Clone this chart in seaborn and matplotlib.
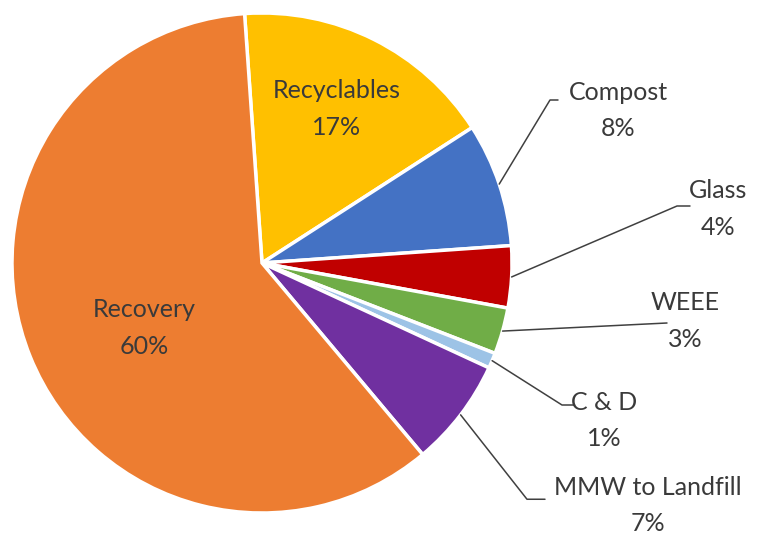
import matplotlib.pyplot as plt
import numpy as np
import seaborn as sns

# DATA
categories = ['Recyclables', 'Compost', 'Glass', 'WEEE', 'C & D', 'MMW to Landfill', 'Recovery']
shares = [17, 8, 4, 3, 1, 7, 60]
colors = ['#FFC000', '#4472C4', '#C00000', '#70AD47', '#9DC3E6', '#7030A0', '#ED7D31']

# LABEL LAYOUT (pie radius = 1, centre at 0,0)
label_pos = {
    'Recyclables': (0.30, 0.615),
    'Recovery': (-0.47, -0.26),
    'Compost': (1.424, 0.61),
    'Glass': (1.824, 0.215),
    'WEEE': (1.692, -0.232),
    'C & D': (1.37, -0.63),
    'MMW to Landfill': (1.544, -0.97),
}
# leader line: elbow point, end point
leaders = {
    'Compost': [(1.152, 0.652), (1.184, 0.652)],
    'Glass': [(1.66, 0.228), (1.712, 0.228)],
    'WEEE': [(1.62, -0.24), (1.62, -0.24)],
    'C & D': [(1.2, -0.568), (1.25, -0.568)],
    'MMW to Landfill': [(1.06, -0.945), (1.132, -0.945)],
}

sns.set_style('white')
plt.rcParams['font.family'] = ['Lato', 'DejaVu Sans']

fig = plt.figure(figsize=(7.68, 5.41), dpi=100)
ax = fig.add_axes([0, 0, 1, 1])

start = 94
wedges, _ = ax.pie(shares, colors=colors, startangle=start, counterclock=False,
                   radius=1, center=(0, 0),
                   wedgeprops=dict(edgecolor='white', linewidth=2.5))

# angles of wedge middles
cum = np.cumsum([0] + shares[:-1])
mids = start - (cum + np.array(shares) / 2) * 3.6

for name, share, mid in zip(categories, shares, mids):
    x, y = label_pos[name]
    ax.text(x, y, f'{name}\n{share}%', ha='center', va='center',
            fontsize=18, color='#3a3a3a', linespacing=1.72)
    if name in leaders:
        a = np.deg2rad(mid)
        pts = [(np.cos(a), np.sin(a))] + leaders[name]
        xs, ys = zip(*pts)
        ax.plot(xs, ys, color='#404040', lw=1.1)

ax.set_xlim(-1.048, 2.024)
ax.set_ylim(-1.112, 1.052)
ax.set_aspect('equal')
ax.axis('off')

fig.savefig('out.png', dpi=100)
